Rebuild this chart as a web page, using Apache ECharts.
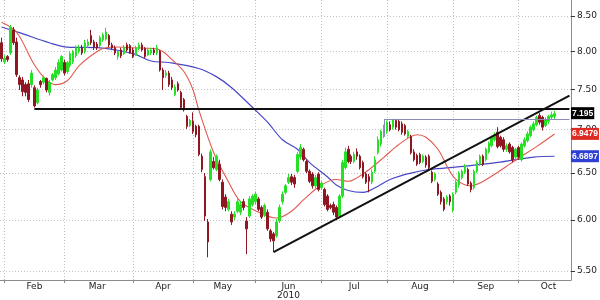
<!DOCTYPE html>
<html><head><meta charset="utf-8">
<script src="https://cdn.jsdelivr.net/npm/echarts@6/dist/echarts.min.js"></script>
<style>html,body{margin:0;padding:0;background:#fff}#c{width:600px;height:300px}</style>
</head><body><div id="c"></div>
<script>
// ---- categories (trading days) ----
const firstDay = '2010-01-29';
const lastDay = '2010-10-26';
const holidays = ['2010-04-02', '2010-04-05'];
function buildDays(from, to) {
  const out = [];
  const d = new Date(from + 'T00:00:00Z');
  const end = new Date(to + 'T00:00:00Z');
  while (d <= end) {
    const wd = d.getUTCDay();
    const s = d.toISOString().slice(0, 10);
    if (wd !== 0 && wd !== 6 && holidays.indexOf(s) < 0) out.push(s);
    d.setUTCDate(d.getUTCDate() + 1);
  }
  return out;
}
const days = buildDays(firstDay, lastDay);

// ---- tick labels ----
const monthStarts = ['2010-02-01','2010-03-01','2010-04-01','2010-05-03','2010-06-01','2010-07-01','2010-08-02','2010-09-01','2010-10-01'];
const labelDates = ['2010-02-15','2010-03-16','2010-04-19','2010-05-17','2010-06-16','2010-07-16','2010-08-17','2010-09-16','2010-10-15'];
const labelTexts = ['Feb','Mar','Apr','May','Jun\n2010','Jul','Aug','Sep','Oct'];
const yTicks = [5.5, 6.0, 6.5, 7.0, 7.5, 8.0, 8.5];

// ---- OHLC (daily, from first day) ----
const open = [
8.12,7.86,7.93,7.98,8.30,8.13,7.65,7.62,7.56,7.57,
7.56,7.52,7.33,7.60,7.59,7.64,7.46,7.62,7.65,7.70,
7.75,7.85,7.73,7.81,7.86,7.94,8.00,8.05,8.00,8.08,
8.22,8.13,8.10,8.08,8.16,8.17,8.22,8.09,8.05,7.93,
8.02,7.97,8.09,8.08,8.02,7.95,8.04,8.09,8.04,7.95,
7.98,8.02,7.98,8.00,7.75,7.68,7.71,7.62,7.43,7.57,
7.46,7.37,7.16,7.05,7.10,7.04,7.04,6.69,6.46,5.98,
6.43,6.63,6.54,6.60,6.40,6.24,6.11,6.06,6.03,6.09,
6.08,6.19,5.99,6.04,6.16,6.19,6.22,6.13,6.05,6.08,
5.89,5.86,5.84,5.99,6.19,6.29,6.40,6.46,6.45,6.52,
6.68,6.77,6.63,6.52,6.49,6.36,6.49,6.34,6.32,6.25,
6.15,6.16,6.13,6.04,6.25,6.56,6.77,6.69,6.63,6.74,
6.69,6.62,6.49,6.46,6.40,6.52,6.73,6.83,6.92,6.98,
7.06,7.03,7.11,7.10,7.07,7.05,6.92,6.92,6.74,6.70,
6.71,6.63,6.68,6.69,6.51,6.43,6.38,6.29,6.22,6.19,
6.25,6.10,6.29,6.37,6.45,6.51,6.54,6.39,6.34,6.52,
6.60,6.69,6.65,6.74,6.81,6.88,6.97,6.91,6.88,6.77,
6.83,6.79,6.68,6.79,6.65,6.81,6.87,6.93,7.00,7.06,
7.17,7.15,7.05,7.10,7.15,7.16];
const close = [
7.90,7.91,7.89,8.33,8.12,7.69,7.56,7.47,7.46,7.37,
7.71,7.29,7.49,7.56,7.65,7.49,7.59,7.69,7.75,7.85,
7.93,7.71,7.85,7.97,8.00,8.05,8.05,7.98,8.12,8.13,
8.12,8.06,8.05,8.19,8.23,8.27,8.09,8.05,7.98,8.00,
7.94,8.06,8.02,7.98,7.93,8.05,8.09,8.02,7.93,8.02,
8.02,7.98,8.05,7.75,7.65,7.71,7.56,7.52,7.53,7.49,
7.27,7.24,7.04,7.11,6.98,6.94,6.71,6.54,6.04,5.78,
6.74,6.56,6.69,6.43,6.14,6.13,6.19,5.98,6.06,6.19,
6.16,6.13,5.91,6.22,6.25,6.27,6.11,6.03,6.15,5.91,
5.81,5.79,5.98,6.13,6.27,6.36,6.45,6.40,6.38,6.71,
6.79,6.65,6.52,6.41,6.36,6.45,6.32,6.39,6.16,6.11,
6.13,6.08,6.03,6.25,6.62,6.74,6.63,6.63,6.71,6.69,
6.56,6.46,6.40,6.41,6.51,6.65,6.88,6.98,7.03,7.09,
7.00,7.12,7.03,7.00,6.97,6.95,6.98,6.73,6.65,6.60,
6.62,6.69,6.59,6.56,6.41,6.49,6.27,6.19,6.11,6.24,
6.19,6.27,6.40,6.50,6.52,6.58,6.38,6.32,6.52,6.62,
6.69,6.60,6.77,6.84,6.91,6.94,6.80,6.81,6.77,6.81,
6.74,6.65,6.77,6.68,6.83,6.88,6.95,7.03,7.07,7.15,
7.09,7.03,7.12,7.16,7.18,7.195];
const low = [
7.86,7.83,7.86,7.95,8.09,7.66,7.49,7.41,7.41,7.34,
7.52,7.27,7.31,7.52,7.56,7.46,7.42,7.60,7.62,7.68,
7.73,7.68,7.70,7.78,7.83,7.91,7.97,7.95,7.97,8.05,
8.09,8.02,8.02,8.06,8.13,8.15,8.06,8.02,7.95,7.89,
7.91,7.95,8.00,7.97,7.91,7.94,8.02,8.00,7.91,7.94,
7.95,7.95,7.95,7.73,7.49,7.65,7.53,7.49,7.41,7.47,
7.24,7.22,7.01,7.03,6.95,6.91,6.69,6.51,5.99,5.63,
6.41,6.54,6.52,6.41,6.11,6.09,6.09,5.95,6.00,6.07,
6.05,6.10,5.66,6.02,6.14,6.16,6.09,6.01,6.03,5.89,
5.78,5.68,5.82,5.97,6.16,6.27,6.38,6.37,6.34,6.50,
6.65,6.63,6.50,6.39,6.33,6.33,6.30,6.32,6.14,6.09,
6.11,6.05,6.00,6.02,6.23,6.54,6.61,6.60,6.61,6.65,
6.54,6.44,6.38,6.29,6.38,6.50,6.71,6.80,6.90,6.95,
6.98,7.00,7.00,6.98,6.94,6.93,6.90,6.71,6.63,6.58,
6.60,6.61,6.56,6.54,6.39,6.41,6.25,6.16,6.09,6.16,
6.15,6.08,6.27,6.34,6.43,6.49,6.36,6.29,6.32,6.50,
6.58,6.58,6.63,6.72,6.79,6.86,6.78,6.79,6.74,6.74,
6.72,6.62,6.65,6.65,6.63,6.79,6.85,6.91,6.98,7.04,
7.06,6.99,7.03,7.07,7.12,7.13];
const high = [
8.19,7.95,7.95,8.37,8.34,8.19,7.68,7.66,7.59,7.62,
7.75,7.55,7.52,7.62,7.68,7.65,7.62,7.71,7.79,7.89,
7.95,7.89,7.87,8.00,8.02,8.08,8.09,8.09,8.16,8.17,
8.30,8.16,8.13,8.22,8.26,8.33,8.24,8.12,8.08,8.02,
8.05,8.09,8.12,8.10,8.05,8.08,8.12,8.12,8.06,8.05,
8.05,8.05,8.09,8.02,7.78,7.75,7.74,7.66,7.56,7.60,
7.48,7.39,7.18,7.13,7.21,7.06,7.06,6.72,6.50,6.01,
6.77,6.68,6.71,6.65,6.43,6.27,6.22,6.09,6.09,6.22,
6.20,6.22,6.03,6.25,6.27,6.30,6.24,6.15,6.17,6.11,
5.91,5.88,6.01,6.16,6.30,6.38,6.49,6.49,6.48,6.74,
6.83,6.79,6.65,6.54,6.51,6.48,6.51,6.41,6.34,6.27,
6.17,6.19,6.15,6.27,6.65,6.79,6.81,6.71,6.74,6.78,
6.71,6.64,6.51,6.49,6.54,6.69,6.92,7.00,7.06,7.11,
7.10,7.13,7.13,7.12,7.10,7.07,7.00,6.94,6.77,6.72,
6.73,6.71,6.70,6.71,6.53,6.51,6.40,6.31,6.24,6.26,
6.27,6.29,6.42,6.52,6.54,6.60,6.56,6.41,6.54,6.64,
6.71,6.71,6.79,6.86,6.93,6.97,7.03,6.93,6.91,6.84,
6.85,6.81,6.79,6.81,6.85,6.91,6.98,7.05,7.10,7.17,
7.20,7.17,7.15,7.18,7.22,7.23];

// ---- moving averages (read at sample dates) ----
const redDates = ['2010-01-29','2010-02-05','2010-02-15','2010-02-19','2010-02-24','2010-03-02','2010-03-08','2010-03-16','2010-03-19','2010-03-25','2010-04-01','2010-04-14','2010-04-19','2010-04-22','2010-04-28','2010-05-03','2010-05-05','2010-05-12','2010-05-19','2010-05-25','2010-06-02','2010-06-10','2010-06-17','2010-06-23','2010-07-01','2010-07-08','2010-07-14','2010-07-19','2010-07-23','2010-07-30','2010-08-05','2010-08-11','2010-08-16','2010-08-19','2010-08-25','2010-08-30','2010-09-02','2010-09-09','2010-09-14','2010-09-22','2010-09-28','2010-10-04','2010-10-11','2010-10-19'];
const redVals = [8.41,8.27,7.82,7.62,7.56,7.61,7.81,8.00,8.05,8.06,8.05,8.04,8.00,7.89,7.73,7.50,7.24,6.73,6.40,6.19,6.08,6.02,6.09,6.21,6.37,6.43,6.41,6.45,6.54,6.68,6.80,6.90,6.94,6.91,6.77,6.58,6.43,6.36,6.39,6.51,6.60,6.69,6.80,6.9479];
const blueDates = ['2010-01-29','2010-02-08','2010-02-22','2010-03-02','2010-03-17','2010-04-01','2010-04-13','2010-04-21','2010-05-05','2010-05-13','2010-05-20','2010-05-31','2010-06-07','2010-06-14','2010-06-21','2010-06-25','2010-07-05','2010-07-08','2010-07-14','2010-07-21','2010-07-27','2010-08-03','2010-08-12','2010-08-20','2010-08-31','2010-09-08','2010-09-22','2010-10-08','2010-10-19'];
const blueVals = [8.34,8.26,8.12,8.06,8.05,7.97,7.87,7.85,7.77,7.66,7.52,7.27,7.09,6.88,6.77,6.62,6.46,6.37,6.31,6.29,6.34,6.43,6.50,6.54,6.56,6.58,6.62,6.68,6.6897];

// ---- drawn lines ----
const resistStart = '2010-02-15', resistLevel = 7.26;
const trendStart = ['2010-06-09', 5.68], trendEnd = ['2010-10-26', 7.42];
const julHighDate = '2010-07-30', julHighLevel = 7.13, julHighBase = 6.92;
const lastClose = '7.195';
const lastRed = '6.9479';
const lastBlue = '6.6897';

const candles = open.map((o, i) => [o, close[i], low[i], high[i]]);
const redData = redDates.map((d, i) => [d, redVals[i]]);
const blueData = blueDates.map((d, i) => [d, blueVals[i]]);

const FONT = 'DejaVu Sans';
const GRID_C = '#c2c2c2';
const HIDDEN = {color: 'rgba(0,0,0,0)', width: 0, opacity: 1};
const tag = (txt, bg) => ({
  show: true, position: 'end', distance: 0, formatter: txt,
  backgroundColor: bg, color: '#fff', fontSize: 8.5, fontWeight: 'bold',
  fontFamily: 'Liberation Sans', padding: [2, 1, 1, 1], opacity: 1
});

const chart = echarts.init(document.getElementById('c'), null, {renderer: 'canvas'});
chart.setOption({
  animation: false,
  backgroundColor: '#fff',
  textStyle: {fontFamily: FONT},
  grid: {left: 0, right: 28, top: 0, bottom: 19},
  xAxis: {
    type: 'category', data: days, boundaryGap: true,
    axisLine: {show: true, lineStyle: {color: '#8c8c8c', width: 1}},
    axisTick: {show: true, alignWithLabel: true, length: 3, interval: (i, v) => monthStarts.indexOf(v) >= 0, lineStyle: {color: '#8c8c8c'}},
    axisLabel: {
      interval: (i, v) => labelDates.indexOf(v) >= 0,
      formatter: v => labelTexts[labelDates.indexOf(v)] || '',
      fontSize: 9, color: '#222', margin: 2, lineHeight: 9, fontFamily: FONT, hideOverlap: false
    },
    splitLine: {show: true, alignWithLabel: true, interval: (i, v) => monthStarts.indexOf(v) >= 0, lineStyle: {color: GRID_C, type: [1, 2], width: 1}}
  },
  yAxis: {
    type: 'log', logBase: 10, position: 'right', min: 5.416, max: 8.734,
    axisLine: {show: true, lineStyle: {color: '#8c8c8c'}},
    axisTick: {show: true, customValues: yTicks, length: 4, lineStyle: {color: '#333'}},
    axisLabel: {customValues: yTicks, formatter: v => Number(v).toFixed(2), fontSize: 9, color: '#222', margin: 6, fontFamily: FONT},
    splitLine: {show: true, lineStyle: {color: GRID_C, type: [1, 2], width: 1}}
  },
  series: [
    {
      type: 'line', data: blueData, showSymbol: false, smooth: 0.35, z: 3,
      lineStyle: {color: '#4747c6', width: 1.2},
      markLine: {symbol: ['none', 'none'], silent: true, animation: false, z: 10,
        data: [{yAxis: Number(lastBlue), lineStyle: HIDDEN, label: tag(lastBlue, '#2f3fd3')}]}
    },
    {
      type: 'line', data: redData, showSymbol: false, smooth: 0.35, z: 3,
      lineStyle: {color: '#e0594f', width: 1.1},
      markLine: {symbol: ['none', 'none'], silent: true, animation: false, z: 10,
        data: [{yAxis: Number(lastRed), lineStyle: HIDDEN, label: tag(lastRed, '#dd2a22')}]}
    },
    {
      type: 'candlestick', data: candles, barWidth: 2, z: 4,
      itemStyle: {color: '#25e025', color0: '#8e1722', borderColor: '#25e025', borderColor0: '#8e1722', borderWidth: 1},
      markLine: {
        symbol: ['none', 'none'], silent: true, animation: false, z: 10,
        data: [
          [{coord: [resistStart, resistLevel], lineStyle: {color: '#111', width: 2, type: 'solid'}, label: {show: false}}, {coord: [lastDay, resistLevel]}],
          [{coord: trendStart, lineStyle: {color: '#111', width: 2, type: 'solid'}, label: {show: false}}, {coord: trendEnd}],
          [{coord: [julHighDate, julHighLevel], lineStyle: {color: '#8a8ab6', width: 1, type: 'solid'}, label: {show: false}}, {coord: [lastDay, julHighLevel]}],
          [{coord: [julHighDate, julHighBase], lineStyle: {color: '#8a8ab6', width: 1, type: 'solid'}, label: {show: false}}, {coord: [julHighDate, julHighLevel]}],
          {yAxis: Number(lastClose), lineStyle: HIDDEN, label: tag(lastClose, '#000')}
        ]
      }
    }
  ]
});
</script>
</body></html>
